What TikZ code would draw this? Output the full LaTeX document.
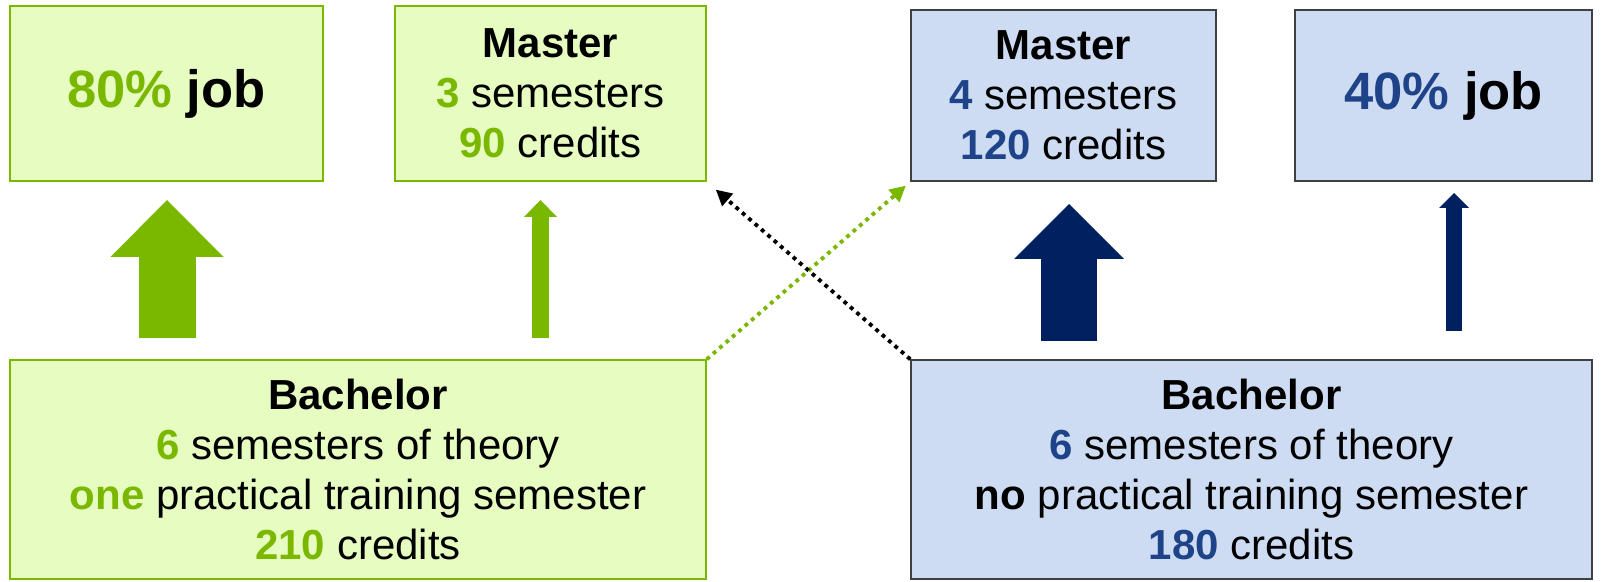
\documentclass[tikz,border=0pt]{standalone}
\usepackage{fontspec}
\setmainfont{Liberation Sans}
\usepackage{tikz}
\usetikzlibrary{calc,arrows.meta}
\definecolor{lime}{HTML}{7AB800}
\definecolor{limefill}{HTML}{E6FCC0}
\definecolor{skyfill}{HTML}{CDDCF2}
\definecolor{navytext}{HTML}{1F4388}
\definecolor{navy}{HTML}{00205F}
\definecolor{frame}{HTML}{404040}
\newcommand{\gnum}[1]{\textbf{\textcolor{lime}{#1}}}
\newcommand{\bnum}[1]{\textbf{\textcolor{navytext}{#1}}}
\tikzset{
  greenbox/.style={draw=lime, fill=limefill, line width=0.8pt, align=center, inner sep=0pt},
  bluebox/.style={draw=frame, fill=skyfill, line width=0.8pt, align=center, inner sep=0pt},
  txt/.style={font=\fontsize{23.9}{28.4}\selectfont},
  bigtxt/.style={font=\fontsize{29.9}{34}\selectfont\bfseries},
  fatarrow/.style n args={3}{line width=#1, -{Triangle[width=#2, length=#3, line width=0pt]}},
  dotline/.style={line width=2.2pt, dash pattern=on 2.2pt off 2.6pt, -{Triangle[length=9pt, width=9pt]}},
}

\begin{document}
\begin{tikzpicture}
\useasboundingbox (0,0) rectangle (32.1,-11.64);
% top row
\node[greenbox, bigtxt, minimum width=6.26cm, minimum height=3.50cm] (jobG) at (3.33,-1.87) {\textcolor{lime}{80\%} job};
\node[greenbox, txt, minimum width=6.22cm, minimum height=3.50cm] (masterG) at (11.01,-1.87) {\textbf{Master}\\\gnum{3} semesters\\\gnum{90} credits};
\node[bluebox, txt, minimum width=6.10cm, minimum height=3.42cm] (masterB) at (21.27,-1.91) {\textbf{Master}\\\bnum{4} semesters\\\bnum{120} credits};
\node[bluebox, bigtxt, minimum width=5.94cm, minimum height=3.42cm] (jobB) at (28.87,-1.91) {\textcolor{navytext}{40\%} job};

% bottom row
\node[greenbox, txt, minimum width=13.92cm, minimum height=4.38cm] (bachG) at (7.16,-9.39) {\textbf{Bachelor}\\\gnum{6} semesters of theory\\\gnum{one} practical training semester\\\gnum{210} credits};
\node[bluebox, txt, minimum width=13.62cm, minimum height=4.38cm] (bachB) at (25.03,-9.39) {\textbf{Bachelor}\\\bnum{6} semesters of theory\\\textbf{no} practical training semester\\\bnum{180} credits};

% block arrows
\coordinate (gJobFrom) at (3.34,-6.76);
\coordinate (gJobTo) at (3.34,-4.00);
\coordinate (gMasFrom) at (10.81,-6.76);
\coordinate (gMasTo) at (10.81,-4.00);
\coordinate (bMasFrom) at (21.38,-6.82);
\coordinate (bMasTo) at (21.38,-4.08);
\coordinate (bJobFrom) at (29.08,-6.62);
\coordinate (bJobTo) at (29.08,-3.86);
\draw[lime, fatarrow={1.14cm}{2.26cm}{1.14cm}] (gJobFrom) -- (gJobTo);
\draw[lime, fatarrow={0.34cm}{0.66cm}{0.34cm}] (gMasFrom) -- (gMasTo);
\draw[navy, fatarrow={1.12cm}{2.20cm}{1.10cm}] (bMasFrom) -- (bMasTo);
\draw[navy, fatarrow={0.32cm}{0.60cm}{0.30cm}] (bJobFrom) -- (bJobTo);

% crossing paths
\draw[dotline, lime, shorten >=0.12cm] (bachG.north east) -- (masterB.south west);
\draw[dotline, black, shorten >=0.24cm] (bachB.north west) -- (masterG.south east);
\end{tikzpicture}
\end{document}
